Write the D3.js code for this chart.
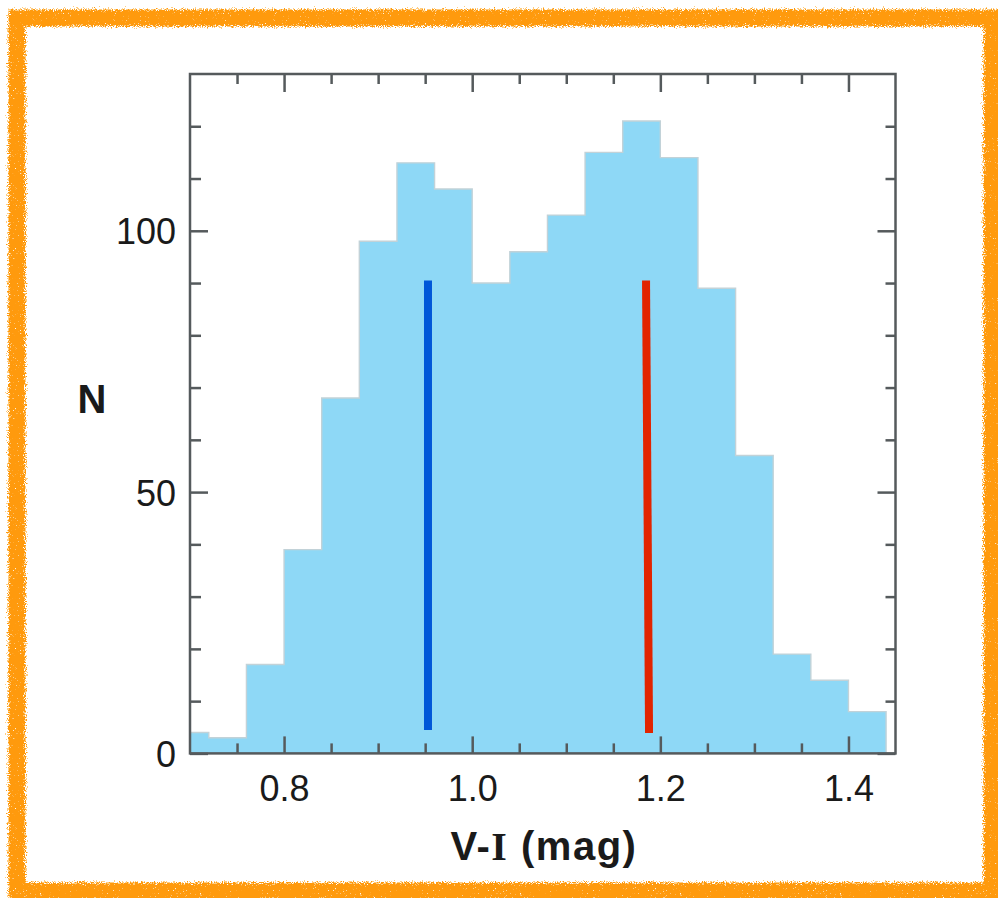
<!DOCTYPE html>
<html>
<head>
<meta charset="utf-8">
<script src="https://cdn.jsdelivr.net/npm/d3@7/dist/d3.min.js"></script>
<style>
  html, body { margin: 0; padding: 0; background: #fff; }
  svg { display: block; }
</style>
</head>
<body>
<svg id="chart" width="998" height="898"></svg>
<script>
// ---- data ----
const binEdges = [0.68, 0.72, 0.76, 0.80, 0.84, 0.88, 0.92, 0.96, 1.00, 1.04,
                  1.08, 1.12, 1.16, 1.20, 1.24, 1.28, 1.32, 1.36, 1.40, 1.44];
const counts   = [4, 3, 17, 39, 68, 98, 113, 108, 90, 96,
                  103, 115, 121, 114, 89, 57, 19, 14, 8];
const xMajorTicks = [0.8, 1.0, 1.2, 1.4];
const xMinorTicks = [0.75, 0.85, 0.9, 0.95, 1.05, 1.1, 1.15, 1.25, 1.3, 1.35];
const yMajorTicks = [0, 50, 100];
const yMinorTicks = [10, 20, 30, 40, 60, 70, 80, 90, 110, 120];
const blueLine = [{x: 0.953, y: 4.5}, {x: 0.953, y: 90.5}];
const redLine  = [{x: 1.188, y: 3.9}, {x: 1.1848, y: 90.5}];
const xLabel = "V-", xLabelI = "I", xLabelRest = " (mag)";
const yLabel = "N";

// ---- layout ----
const svg = d3.select("#chart");
const X0 = 190, X1 = 895.5, Y0 = 753.4, Y1 = 74;
const x = d3.scaleLinear().domain([0.7, 1.45]).range([X0, X1]);
const y = d3.scaleLinear().domain([0, 130]).range([Y0, Y1]);
const frameColor = "#555a5c";
const font = "'Liberation Sans', Helvetica, Arial, sans-serif";

// ---- chalky orange border ----
const defs = svg.append("defs");
const f = defs.append("filter").attr("id", "rough")
  .attr("x", "-5%").attr("y", "-5%").attr("width", "110%").attr("height", "110%");
f.append("feTurbulence").attr("type", "fractalNoise").attr("baseFrequency", "0.9")
  .attr("numOctaves", 2).attr("seed", 3).attr("result", "noise");
f.append("feDisplacementMap").attr("in", "SourceGraphic").attr("in2", "noise")
  .attr("scale", 9).attr("xChannelSelector", "R").attr("yChannelSelector", "G")
  .attr("result", "disp");
f.append("feTurbulence").attr("type", "fractalNoise").attr("baseFrequency", "1.6")
  .attr("numOctaves", 1).attr("seed", 7).attr("result", "speck");
f.append("feColorMatrix").attr("in", "speck").attr("type", "matrix")
  .attr("values", "0 0 0 0 0  0 0 0 0 0  0 0 0 0 0  0 0 0 -9 7.2").attr("result", "mask");
f.append("feComposite").attr("in", "disp").attr("in2", "mask").attr("operator", "in");
defs.append("clipPath").attr("id", "plotclip").append("rect")
  .attr("x", X0).attr("y", Y1).attr("width", X1 - X0).attr("height", Y0 - Y1);

svg.append("rect").attr("x", 17).attr("y", 18).attr("width", 975).attr("height", 873)
  .attr("fill", "none").attr("stroke", "#ff9a0a").attr("stroke-width", 17)
  .attr("filter", "url(#rough)");

// ---- histogram ----
const bins = counts.map((c, i) => ({x0: binEdges[i], x1: binEdges[i + 1], n: c}));
const stepPts = [];
bins.forEach(b => { stepPts.push([b.x0, b.n]); stepPts.push([b.x1, b.n]); });
const area = d3.area()
  .x(d => x(d[0])).y0(y(0)).y1(d => y(d[1]));
const line = d3.line().x(d => x(d[0])).y(d => y(d[1]));
const g = svg.append("g").attr("clip-path", "url(#plotclip)");
g.append("path").datum(stepPts).attr("d", area).attr("fill", "#8ed8f6");
g.append("path").datum([[binEdges[0], 0]].concat(stepPts, [[binEdges[binEdges.length - 1], 0]]))
  .attr("d", line).attr("fill", "none").attr("stroke", "#c2d2d8").attr("stroke-width", 1.4);

// ---- marker lines ----
const ml = d3.line().x(d => x(d.x)).y(d => y(d.y));
svg.append("path").datum(blueLine).attr("d", ml).attr("stroke", "#0057d8")
  .attr("stroke-width", 8).attr("fill", "none");
svg.append("path").datum(redLine).attr("d", ml).attr("stroke", "#e22400")
  .attr("stroke-width", 8).attr("fill", "none");

// ---- axes (frame + inward ticks on all four sides) ----
const axB = svg.append("g").attr("transform", `translate(0,${Y0})`)
  .call(d3.axisBottom(x).tickValues(xMajorTicks).tickSize(-17).tickPadding(27)
    .tickFormat(d3.format(".1f")));
const axBm = svg.append("g").attr("transform", `translate(0,${Y0})`)
  .call(d3.axisBottom(x).tickValues(xMinorTicks).tickSize(-10).tickFormat(""));
const axT = svg.append("g").attr("transform", `translate(0,${Y1})`)
  .call(d3.axisTop(x).tickValues(xMajorTicks).tickSize(-18).tickFormat(""));
const axTm = svg.append("g").attr("transform", `translate(0,${Y1})`)
  .call(d3.axisTop(x).tickValues(xMinorTicks).tickSize(-10).tickFormat(""));
const axL = svg.append("g").attr("transform", `translate(${X0},0)`)
  .call(d3.axisLeft(y).tickValues(yMajorTicks).tickSize(-18).tickPadding(14)
    .tickFormat(d3.format("d")));
const axLm = svg.append("g").attr("transform", `translate(${X0},0)`)
  .call(d3.axisLeft(y).tickValues(yMinorTicks).tickSize(-11).tickFormat(""));
const axR = svg.append("g").attr("transform", `translate(${X1},0)`)
  .call(d3.axisRight(y).tickValues(yMajorTicks).tickSize(-18).tickFormat(""));
const axRm = svg.append("g").attr("transform", `translate(${X1},0)`)
  .call(d3.axisRight(y).tickValues(yMinorTicks).tickSize(-10).tickFormat(""));

[axB, axBm, axT, axTm, axL, axLm, axR, axRm].forEach(a => {
  a.select(".domain").remove();
  a.selectAll(".tick line").attr("stroke", frameColor).attr("stroke-width", 2.5);
  a.selectAll(".tick text").attr("fill", "#1a1a1a").style("font-family", font)
    .style("font-size", "36px");
});
axL.selectAll(".tick text").attr("x", -14).attr("dy", "0.36em");
axB.selectAll(".tick text").attr("dy", "0.71em").attr("y", 22);

svg.append("rect").attr("x", X0).attr("y", Y1).attr("width", X1 - X0).attr("height", Y0 - Y1)
  .attr("fill", "none").attr("stroke", frameColor).attr("stroke-width", 2.5);

// ---- axis titles ----
const xt = svg.append("text").attr("x", 544).attr("y", 860).attr("text-anchor", "middle")
  .style("font-family", font).style("font-weight", "bold").style("font-size", "40px")
  .style("letter-spacing", "1.5px").attr("fill", "#1a1a1a");
xt.append("tspan").text(xLabel);
xt.append("tspan").text(xLabelI).style("font-family", "'Liberation Serif', 'Times New Roman', serif");
xt.append("tspan").text(xLabelRest);

svg.append("text").attr("x", 92).attr("y", 413).attr("text-anchor", "middle")
  .style("font-family", font).style("font-weight", "bold").style("font-size", "40px")
  .attr("fill", "#1a1a1a").text(yLabel);
</script>
</body>
</html>
